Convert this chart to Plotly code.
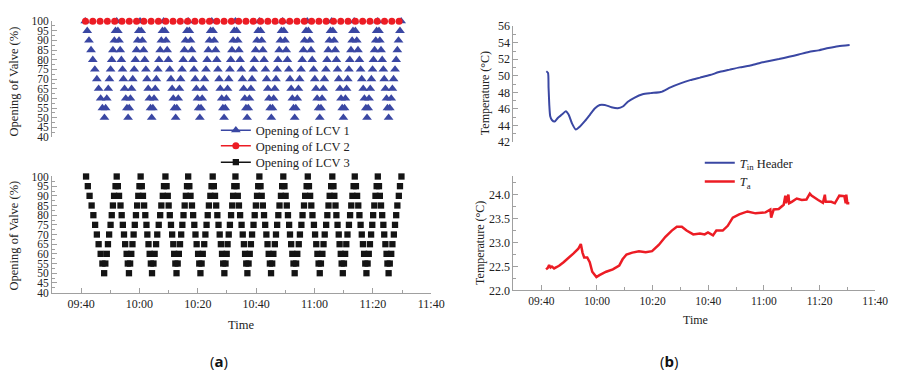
import pandas as pd
import plotly.graph_objects as go

# ---------------- data (time = minutes after 09:30) ----------------
LCV1_T = [
    11.4, 12.1, 12.7, 13.4, 14.0, 14.7, 15.4, 16.0, 16.7, 17.3, 18.0, 18.4, 18.8, 19.3, 19.7, 20.1, 20.5, 20.9, 21.4, 21.8, 22.2,
    22.6, 23.0, 23.4, 23.8, 24.2, 24.5, 24.9, 25.3, 25.7, 26.1, 26.5, 26.9, 27.3, 27.7, 28.2, 28.6, 29.0, 29.4, 29.8, 30.2,
    30.6, 31.0, 31.4, 31.8, 32.2, 32.6, 33.0, 33.4, 33.8, 34.2, 34.6, 35.0, 35.4, 35.8, 36.3, 36.7, 37.1, 37.5, 37.9, 38.3,
    38.7, 39.1, 39.5, 39.9, 40.4, 40.8, 41.2, 41.6, 42.0, 42.4, 42.8, 43.3, 43.7, 44.1, 44.6, 45.0, 45.4, 45.8, 46.3, 46.7,
    47.1, 47.5, 47.9, 48.3, 48.7, 49.1, 49.5, 49.9, 50.3, 50.7, 51.1, 51.5, 51.9, 52.3, 52.8, 53.2, 53.6, 54.0, 54.4, 54.8,
    55.2, 55.6, 56.1, 56.5, 56.9, 57.3, 57.7, 58.2, 58.6, 59.0, 59.4, 59.8, 60.2, 60.6, 61.0, 61.3, 61.7, 62.1, 62.5, 62.9,
    63.3, 63.7, 64.1, 64.5, 64.9, 65.3, 65.7, 66.1, 66.5, 66.9, 67.3, 67.7, 68.2, 68.6, 69.0, 69.4, 69.8, 70.3, 70.7, 71.1,
    71.5, 71.9, 72.3, 72.7, 73.2, 73.6, 74.0, 74.4, 74.8, 75.2, 75.6, 76.0, 76.4, 76.8, 77.2, 77.5, 77.9, 78.3, 78.7, 79.1,
    79.5, 79.9, 80.3, 80.7, 81.2, 81.6, 82.0, 82.4, 82.8, 83.2, 83.6, 84.1, 84.5, 84.9, 85.4, 85.8, 86.2, 86.6, 87.1, 87.5,
    87.9, 88.4, 88.8, 89.2, 89.7, 90.1, 90.5, 90.9, 91.4, 91.8, 92.2, 92.6, 93.0, 93.4, 93.9, 94.3, 94.7, 95.1, 95.5, 95.9,
    96.3, 96.7, 97.1, 97.5, 97.9, 98.3, 98.7, 99.1, 99.5, 99.9, 100.3, 100.6, 101.0, 101.4, 101.8, 102.1, 102.5, 102.9, 103.2, 103.6,
    104.0, 104.5, 104.9, 105.4, 105.8, 106.2, 106.7, 107.1, 107.6, 108.0, 108.4, 108.7, 109.1, 109.5, 109.9, 110.2, 110.6, 111.0, 111.3, 111.7,
    112.1, 112.4, 112.8, 113.2, 113.6, 113.9, 114.3, 114.7, 115.0, 115.4, 115.8, 116.3, 116.7, 117.1, 117.6, 118.0, 118.4, 118.8, 119.3, 119.7,
]
LCV1_V = [
    100, 95, 90, 85, 80, 75, 70, 65, 60, 55, 50, 55, 60, 65, 70, 75, 80, 85, 90, 95, 100,
    95, 90, 85, 80, 75, 70, 65, 60, 55, 50, 55, 60, 65, 70, 75, 80, 85, 90, 95, 100,
    95, 90, 85, 80, 75, 70, 65, 60, 55, 50, 55, 60, 65, 70, 75, 80, 85, 90, 95, 100,
    95, 90, 85, 80, 75, 70, 65, 60, 55, 50, 55, 60, 65, 70, 75, 80, 85, 90, 95, 100,
    95, 90, 85, 80, 75, 70, 65, 60, 55, 50, 55, 60, 65, 70, 75, 80, 85, 90, 95, 100,
    95, 90, 85, 80, 75, 70, 65, 60, 55, 50, 55, 60, 65, 70, 75, 80, 85, 90, 95, 100,
    95, 90, 85, 80, 75, 70, 65, 60, 55, 50, 55, 60, 65, 70, 75, 80, 85, 90, 95, 100,
    95, 90, 85, 80, 75, 70, 65, 60, 55, 50, 55, 60, 65, 70, 75, 80, 85, 90, 95, 100,
    95, 90, 85, 80, 75, 70, 65, 60, 55, 50, 55, 60, 65, 70, 75, 80, 85, 90, 95, 100,
    95, 90, 85, 80, 75, 70, 65, 60, 55, 50, 55, 60, 65, 70, 75, 80, 85, 90, 95, 100,
    95, 90, 85, 80, 75, 70, 65, 60, 55, 50, 55, 60, 65, 70, 75, 80, 85, 90, 95, 100,
    95, 90, 85, 80, 75, 70, 65, 60, 55, 50, 55, 60, 65, 70, 75, 80, 85, 90, 95, 100,
    95, 90, 85, 80, 75, 70, 65, 60, 55, 50, 55, 60, 65, 70, 75, 80, 85, 90, 95, 100,
]

LCV2_T = [
    11.5, 14.0, 16.5, 19.0, 21.5, 24.0, 26.5, 29.0, 31.5, 34.0, 36.5, 39.0, 41.5, 44.0, 46.5,
    49.0, 51.5, 54.0, 56.5, 59.0, 61.5, 64.0, 66.5, 69.0, 71.5, 74.0, 76.5, 79.0, 81.5, 84.0,
    86.5, 89.0, 91.5, 94.0, 96.5, 99.0, 101.5, 104.0, 106.5, 109.0, 111.5, 114.0, 116.5, 119.0,
]
LCV2_V = [
    100, 100, 100, 100, 100, 100, 100, 100, 100, 100, 100, 100, 100, 100, 100,
    100, 100, 100, 100, 100, 100, 100, 100, 100, 100, 100, 100, 100, 100, 100,
    100, 100, 100, 100, 100, 100, 100, 100, 100, 100, 100, 100, 100, 100,
]

LCV3_T = [
    11.7, 12.3, 12.9, 13.6, 14.2, 14.8, 15.4, 16.0, 16.7, 17.3, 17.9, 18.3, 18.8, 19.2, 19.6, 20.1, 20.5, 20.9, 21.3, 21.8, 22.2,
    22.6, 23.0, 23.5, 23.9, 24.3, 24.7, 25.1, 25.6, 26.0, 26.4, 26.8, 27.2, 27.6, 28.0, 28.4, 28.8, 29.2, 29.6, 30.0, 30.4,
    30.8, 31.2, 31.6, 32.0, 32.4, 32.7, 33.1, 33.5, 33.9, 34.3, 34.8, 35.2, 35.7, 36.1, 36.6, 37.1, 37.5, 38.0, 38.4, 38.9,
    39.3, 39.7, 40.0, 40.4, 40.8, 41.2, 41.6, 41.9, 42.3, 42.7, 43.1, 43.5, 43.9, 44.3, 44.7, 45.1, 45.5, 45.9, 46.3, 46.7,
    47.1, 47.5, 48.0, 48.4, 48.8, 49.2, 49.6, 50.1, 50.5, 50.9, 51.3, 51.7, 52.2, 52.6, 53.0, 53.4, 53.8, 54.3, 54.7, 55.1,
    55.5, 55.9, 56.3, 56.7, 57.1, 57.5, 57.9, 58.3, 58.7, 59.1, 59.5, 59.9, 60.2, 60.6, 61.0, 61.4, 61.8, 62.1, 62.5, 62.9,
    63.3, 63.7, 64.1, 64.5, 65.0, 65.4, 65.8, 66.2, 66.6, 67.0, 67.4, 67.8, 68.2, 68.6, 69.1, 69.5, 69.9, 70.3, 70.7, 71.1,
    71.5, 71.9, 72.3, 72.7, 73.1, 73.5, 73.9, 74.3, 74.7, 75.1, 75.5, 75.9, 76.4, 76.8, 77.2, 77.6, 78.0, 78.5, 78.9, 79.3,
    79.7, 80.1, 80.5, 80.9, 81.3, 81.6, 82.0, 82.4, 82.8, 83.2, 83.7, 84.1, 84.6, 85.0, 85.5, 85.9, 86.4, 86.8, 87.3, 87.7,
    88.1, 88.5, 88.9, 89.3, 89.8, 90.2, 90.6, 91.0, 91.4, 91.8, 92.2, 92.7, 93.1, 93.5, 94.0, 94.4, 94.8, 95.2, 95.7, 96.1,
    96.5, 96.8, 97.2, 97.5, 97.9, 98.3, 98.6, 99.0, 99.3, 99.7, 100.1, 100.5, 100.9, 101.3, 101.8, 102.2, 102.6, 103.0, 103.4, 103.8,
    104.2, 104.6, 105.0, 105.4, 105.8, 106.2, 106.6, 107.0, 107.4, 107.8, 108.2, 108.6, 109.0, 109.4, 109.8, 110.1, 110.5, 110.9, 111.3, 111.7,
    112.1, 112.4, 112.8, 113.2, 113.6, 113.9, 114.3, 114.7, 115.0, 115.4, 115.8, 116.3, 116.7, 117.2, 117.6, 118.0, 118.4, 118.9, 119.3, 119.8,
]
LCV3_V = [
    100, 95, 90, 85, 80, 75, 70, 65, 60, 55, 50, 55, 60, 65, 70, 75, 80, 85, 90, 95, 100,
    95, 90, 85, 80, 75, 70, 65, 60, 55, 50, 55, 60, 65, 70, 75, 80, 85, 90, 95, 100,
    95, 90, 85, 80, 75, 70, 65, 60, 55, 50, 55, 60, 65, 70, 75, 80, 85, 90, 95, 100,
    95, 90, 85, 80, 75, 70, 65, 60, 55, 50, 55, 60, 65, 70, 75, 80, 85, 90, 95, 100,
    95, 90, 85, 80, 75, 70, 65, 60, 55, 50, 55, 60, 65, 70, 75, 80, 85, 90, 95, 100,
    95, 90, 85, 80, 75, 70, 65, 60, 55, 50, 55, 60, 65, 70, 75, 80, 85, 90, 95, 100,
    95, 90, 85, 80, 75, 70, 65, 60, 55, 50, 55, 60, 65, 70, 75, 80, 85, 90, 95, 100,
    95, 90, 85, 80, 75, 70, 65, 60, 55, 50, 55, 60, 65, 70, 75, 80, 85, 90, 95, 100,
    95, 90, 85, 80, 75, 70, 65, 60, 55, 50, 55, 60, 65, 70, 75, 80, 85, 90, 95, 100,
    95, 90, 85, 80, 75, 70, 65, 60, 55, 50, 55, 60, 65, 70, 75, 80, 85, 90, 95, 100,
    95, 90, 85, 80, 75, 70, 65, 60, 55, 50, 55, 60, 65, 70, 75, 80, 85, 90, 95, 100,
    95, 90, 85, 80, 75, 70, 65, 60, 55, 50, 55, 60, 65, 70, 75, 80, 85, 90, 95, 100,
    95, 90, 85, 80, 75, 70, 65, 60, 55, 50, 55, 60, 65, 70, 75, 80, 85, 90, 95, 100,
]

TIN_T = [11.8, 12.4, 12.6, 12.9, 13.2, 13.8, 14.8, 16.0, 17.4, 18.8,
         19.8, 21.0, 22.4, 23.9, 25.7, 27.5, 29.3, 31.0, 32.8, 35.2,
         37.5, 39.3, 41.1, 43.4, 46.4, 49.3, 52.9, 56.4, 60.0, 63.5,
         67.1, 70.6, 74.2, 77.7, 81.3, 84.8, 88.3, 91.9, 95.4, 99.0,
         102.5, 106.1, 109.6, 113.2, 116.7, 120.8]
TIN_V = [50.56, 50.36, 48.6, 46.28, 45.1, 44.64, 44.45, 44.92, 45.3, 45.7,
         45.3, 44.25, 43.5, 43.87, 44.53, 45.3, 46.08, 46.47, 46.47, 46.2,
         46.08, 46.28, 46.86, 47.33, 47.76, 47.9, 48.03, 48.6, 49.08, 49.47,
         49.78, 50.09, 50.48, 50.75, 51.02, 51.22, 51.53, 51.8, 52.03, 52.3,
         52.58, 52.89, 53.08, 53.36, 53.59, 53.74]

TA_T = [11.7, 12.3, 12.8, 13.3, 13.8, 14.6, 15.6, 16.5, 18.0, 19.7,
        21.5, 23.3, 24.2, 24.8, 25.4, 26.5, 27.4, 28.3, 29.8, 30.9,
        33.3, 35.7, 38.0, 39.2, 40.6, 42.7, 45.1, 47.5, 49.8, 52.2,
        54.6, 56.9, 58.7, 60.5, 62.2, 64.6, 67.0, 68.7, 69.9, 71.7,
        72.9, 75.2, 77.0, 78.8, 81.1, 84.1, 87.0, 90.6, 92.3, 92.6,
        93.5, 95.3, 97.1, 97.7, 98.0, 98.8, 99.1, 100.0, 101.8, 103.6,
        105.3, 106.5, 107.1, 109.5, 111.2, 111.9, 112.2, 114.2, 115.5, 117.1,
        118.9, 119.4, 119.6, 120.0, 120.7]
TA_V = [22.44, 22.47, 22.53, 22.48, 22.5, 22.46, 22.49, 22.52, 22.59, 22.67,
        22.77, 22.87, 22.97, 22.79, 22.69, 22.69, 22.59, 22.39, 22.28, 22.32,
        22.39, 22.44, 22.52, 22.65, 22.75, 22.79, 22.82, 22.8, 22.82, 22.95,
        23.12, 23.25, 23.33, 23.33, 23.25, 23.17, 23.19, 23.17, 23.21, 23.15,
        23.25, 23.25, 23.35, 23.52, 23.59, 23.65, 23.61, 23.63, 23.69, 23.52,
        23.69, 23.7, 23.79, 23.98, 23.82, 24.0, 23.82, 23.85, 23.92, 23.89,
        23.9, 24.02, 23.98, 23.89, 23.83, 24.0, 23.85, 23.85, 23.82, 23.98,
        23.97, 23.82, 24.0, 23.82, 23.82]

X_RANGE = ["2021-01-01 09:30", "2021-01-01 11:40"]
X_TICK0 = "2021-01-01 09:40"
BASE = pd.Timestamp("2021-01-01 09:30")


def to_time(minutes):
    return BASE + pd.to_timedelta(pd.Series(minutes, dtype=float), unit="min")


# ---------------- style ----------------
W, H = 903, 379
SERIF = "Liberation Serif"
BLUE = "#3a47a3"
RED = "#ec1c24"
BLACK = "#141414"
AX = "#a0a0a0"
TXT = "#222222"


def px_x(v):
    return v / W


def px_y(v):
    return 1 - v / H


fig = go.Figure()

# left top: LCV1 and LCV2
fig.add_trace(go.Scatter(x=to_time(LCV1_T), y=LCV1_V, mode="markers", xaxis="x", yaxis="y",
                         marker=dict(symbol="triangle-up", size=8.5, color=BLUE),
                         showlegend=False, cliponaxis=False))
fig.add_trace(go.Scatter(x=to_time(LCV2_T), y=LCV2_V, mode="markers", xaxis="x", yaxis="y",
                         marker=dict(symbol="circle", size=7, color=RED),
                         showlegend=False, cliponaxis=False))
# left bottom: LCV3
fig.add_trace(go.Scatter(x=to_time(LCV3_T), y=LCV3_V, mode="markers", xaxis="x2", yaxis="y2",
                         marker=dict(symbol="square", size=6.3, color=BLACK),
                         showlegend=False, cliponaxis=False))
# legend entries (line + marker)
for name, col, sym, sz, leg in [("Opening of LCV 1", BLUE, "triangle-up", 8.5, "legend"),
                                ("Opening of LCV 2", RED, "circle", 7, "legend2"),
                                ("Opening of LCV 3", BLACK, "square", 6.3, "legend3")]:
    fig.add_trace(go.Scatter(x=[None], y=[None], mode="lines+markers", name=name, xaxis="x", yaxis="y",
                             line=dict(color=col, width=1.5), marker=dict(symbol=sym, size=sz, color=col),
                             legend=leg, showlegend=True))

# right top: T_in header
fig.add_trace(go.Scatter(x=to_time(TIN_T), y=TIN_V, mode="lines", xaxis="x3", yaxis="y3",
                         name="<i>T</i><sub>in</sub> Header", line=dict(color=BLUE, width=2, shape="spline", smoothing=0.6),
                         legend="legend4"))
# right bottom: T_a
fig.add_trace(go.Scatter(x=to_time(TA_T), y=TA_V, mode="lines", xaxis="x4", yaxis="y4",
                         name="<i>T</i><sub>a</sub>", line=dict(color=RED, width=2.5),
                         legend="legend5"))

tickfont = dict(family=SERIF, size=12, color=TXT)
tickfont_small = dict(family=SERIF, size=11.5, color=TXT)


def date_axis(domain, visible=True, anchor=None, matches=None, font=tickfont):
    d = dict(domain=domain, type="date", range=X_RANGE, tick0=X_TICK0, dtick=20 * 60 * 1000,
             tickformat="%H:%M", showgrid=False, zeroline=False, anchor=anchor)
    if matches:
        d["matches"] = matches
    if visible:
        d.update(showline=True, linecolor=AX, linewidth=1, ticks="inside", ticklen=5, tickcolor=AX,
                 tickfont=font,
                 minor=dict(ticks="inside", ticklen=3, tickcolor=AX, dtick=10 * 60 * 1000, showgrid=False))
    else:
        d.update(visible=False)
    return d


def val_axis(domain, rng, dtick, minor, anchor, fmt=None, font=tickfont):
    d = dict(domain=domain, range=rng, dtick=dtick, tick0=rng[0], showgrid=False, zeroline=False,
             showline=True, linecolor=AX, linewidth=1, ticks="inside", ticklen=5, tickcolor=AX,
             tickfont=font, anchor=anchor,
             minor=dict(ticks="inside", ticklen=3, tickcolor=AX, dtick=minor, showgrid=False))
    if fmt:
        d["tickformat"] = fmt
    return d


LX = [px_x(52.7), px_x(437.5)]
RX = [px_x(521), px_x(888)]
fig.update_layout(
    width=W, height=H, margin=dict(l=0, r=0, t=0, b=0),
    paper_bgcolor="white", plot_bgcolor="white",
    font=dict(family=SERIF, size=12, color=TXT),
    xaxis=date_axis(LX, visible=False, anchor="y", matches="x2"),
    yaxis=val_axis([px_y(135), px_y(14.7)], [40, 100], 5, 2.5, "x", font=tickfont_small),
    xaxis2=date_axis(LX, anchor="y2"),
    yaxis2=val_axis([px_y(296.5), px_y(176)], [40, 100], 5, 2.5, "x2", font=tickfont_small),
    xaxis3=date_axis(RX, visible=False, anchor="y3", matches="x4"),
    yaxis3=val_axis([px_y(140), px_y(20)], [42, 56], 2, 1, "x3"),
    xaxis4=date_axis(RX, anchor="y4", font=dict(family=SERIF, size=11.5, color=TXT)),
    yaxis4=val_axis([px_y(294.3), px_y(175)], [22.0, 24.4], 0.5, 0.25, "x4", fmt=".1f"),
)

legend_common = dict(xanchor="left", yanchor="middle", bgcolor="rgba(0,0,0,0)", borderwidth=0,
                     font=dict(family=SERIF, size=12.5, color=TXT), itemwidth=30)
fig.update_layout(
    legend=dict(x=px_x(219), y=px_y(128.3), **legend_common),
    legend2=dict(x=px_x(219), y=px_y(144.5), **legend_common),
    legend3=dict(x=px_x(219), y=px_y(161.5), **legend_common),
    legend4=dict(x=px_x(710), y=px_y(162), **legend_common),
    legend5=dict(x=px_x(710), y=px_y(181.5), **legend_common),
)

ann = [
    dict(text="Opening of Valve (%)", x=px_x(14.5), y=px_y(77), textangle=-90, font=dict(size=12.5)),
    dict(text="Opening of Valve (%)", x=px_x(14.5), y=px_y(237), textangle=-90, font=dict(size=12.5)),
    dict(text="Time", x=px_x(245), y=px_y(330), font=dict(size=12.5)),
    dict(text="Temperature (°C)", x=px_x(491.5), y=px_y(89), textangle=-90, font=dict(size=12)),
    dict(text="Temperature (°C)", x=px_x(487), y=px_y(245), textangle=-90, font=dict(size=12)),
    dict(text="Time", x=px_x(706), y=px_y(325), font=dict(size=12)),
    dict(text="(<b>a</b>)", x=px_x(222), y=px_y(368), font=dict(family="Open Sans", size=15, color="#111")),
    dict(text="(<b>b</b>)", x=px_x(679), y=px_y(368), font=dict(family="Open Sans", size=15, color="#111")),
]
for a in ann:
    a.update(xref="paper", yref="paper", showarrow=False, xanchor="center", yanchor="middle")
    a.setdefault("font", {})
    a["font"].setdefault("family", SERIF)
    a["font"].setdefault("color", TXT)
fig.update_layout(annotations=ann)

fig.write_html("out.html")
